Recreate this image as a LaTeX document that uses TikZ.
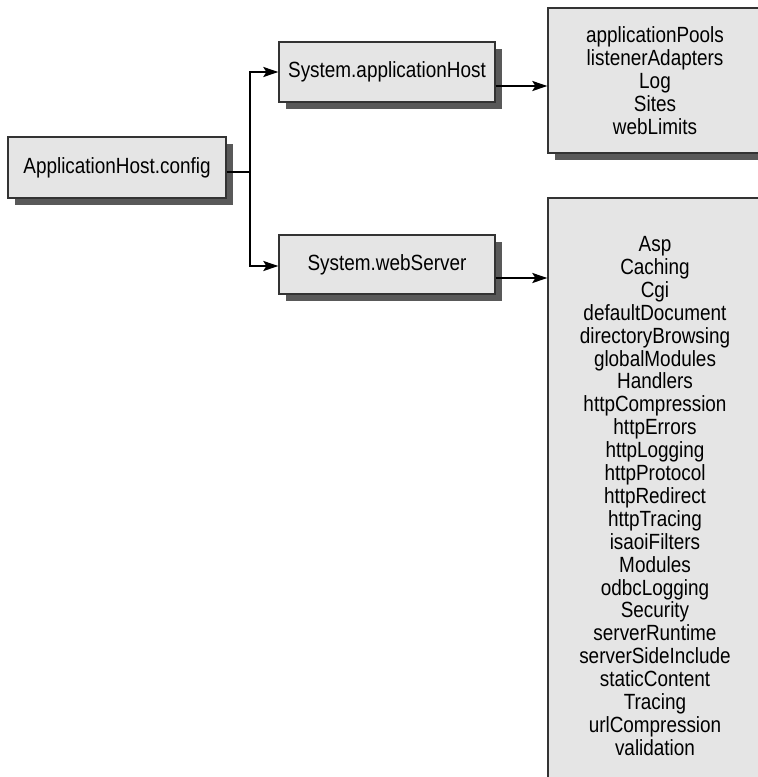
\documentclass[tikz,border=0pt]{standalone}
\usepackage{fontspec}
\setmainfont{Liberation Sans}[FakeStretch=0.86]
\usetikzlibrary{arrows.meta,shadows}

\tikzset{
  cfgbox/.style = {draw = black!80, line width = 1.3pt, fill = black!10,
    drop shadow = {shadow xshift = 7pt, shadow yshift = -7pt, fill = black!65, opacity = 1},
    inner sep = 0pt, align = center,
    font = \fontsize{22}{22.9}\selectfont},
  link/.style = {line width = 2pt, -{Stealth[length = 15pt, width = 10pt, inset = 3pt]}}
}

\begin{document}
\begin{tikzpicture}[x = 1pt, y = -1pt]
\useasboundingbox (0, 0) rectangle (758, 777);

\node[cfgbox, minimum width = 218pt, minimum height = 61pt] (cfg) at (117, 167.5) {ApplicationHost.config};
\node[cfgbox, minimum width = 216pt, minimum height = 60pt] (apphost) at (387, 72) {System.applicationHost};
\node[cfgbox, minimum width = 216pt, minimum height = 59pt] (websrv) at (387, 264.5) {System.webServer};

\node[cfgbox, minimum width = 214pt, minimum height = 145pt] (hostsect) at (655, 80.5)
  {applicationPools\\ listenerAdapters\\ Log\\ Sites\\ webLimits};
\node[cfgbox, minimum width = 214pt, minimum height = 596pt] (websect) at (655, 496)
  {Asp\\ Caching\\ Cgi\\ defaultDocument\\ directoryBrowsing\\ globalModules\\
   Handlers\\ httpCompression\\ httpErrors\\ httpLogging\\ httpProtocol\\
   httpRedirect\\ httpTracing\\ isaoiFilters\\ Modules\\ odbcLogging\\ Security\\
   serverRuntime\\ serverSideInclude\\ staticContent\\ Tracing\\ urlCompression\\ validation};

% branch from the main file
\coordinate (fork) at (250, 172);
\draw[line width = 2pt] ([yshift = -4.5pt]cfg.east) -- (fork);
\draw[link] (fork) |- (apphost.west);
\draw[link] (fork) |- ([yshift = -1.5pt]websrv.west);

% sections
\draw[link] ([yshift = -14pt]apphost.east) -- ([yshift = -14pt]apphost.east -| hostsect.west);
\draw[link] ([yshift = -13.5pt]websrv.east) -- ([yshift = -13.5pt]websrv.east -| websect.west);

\end{tikzpicture}
\end{document}
